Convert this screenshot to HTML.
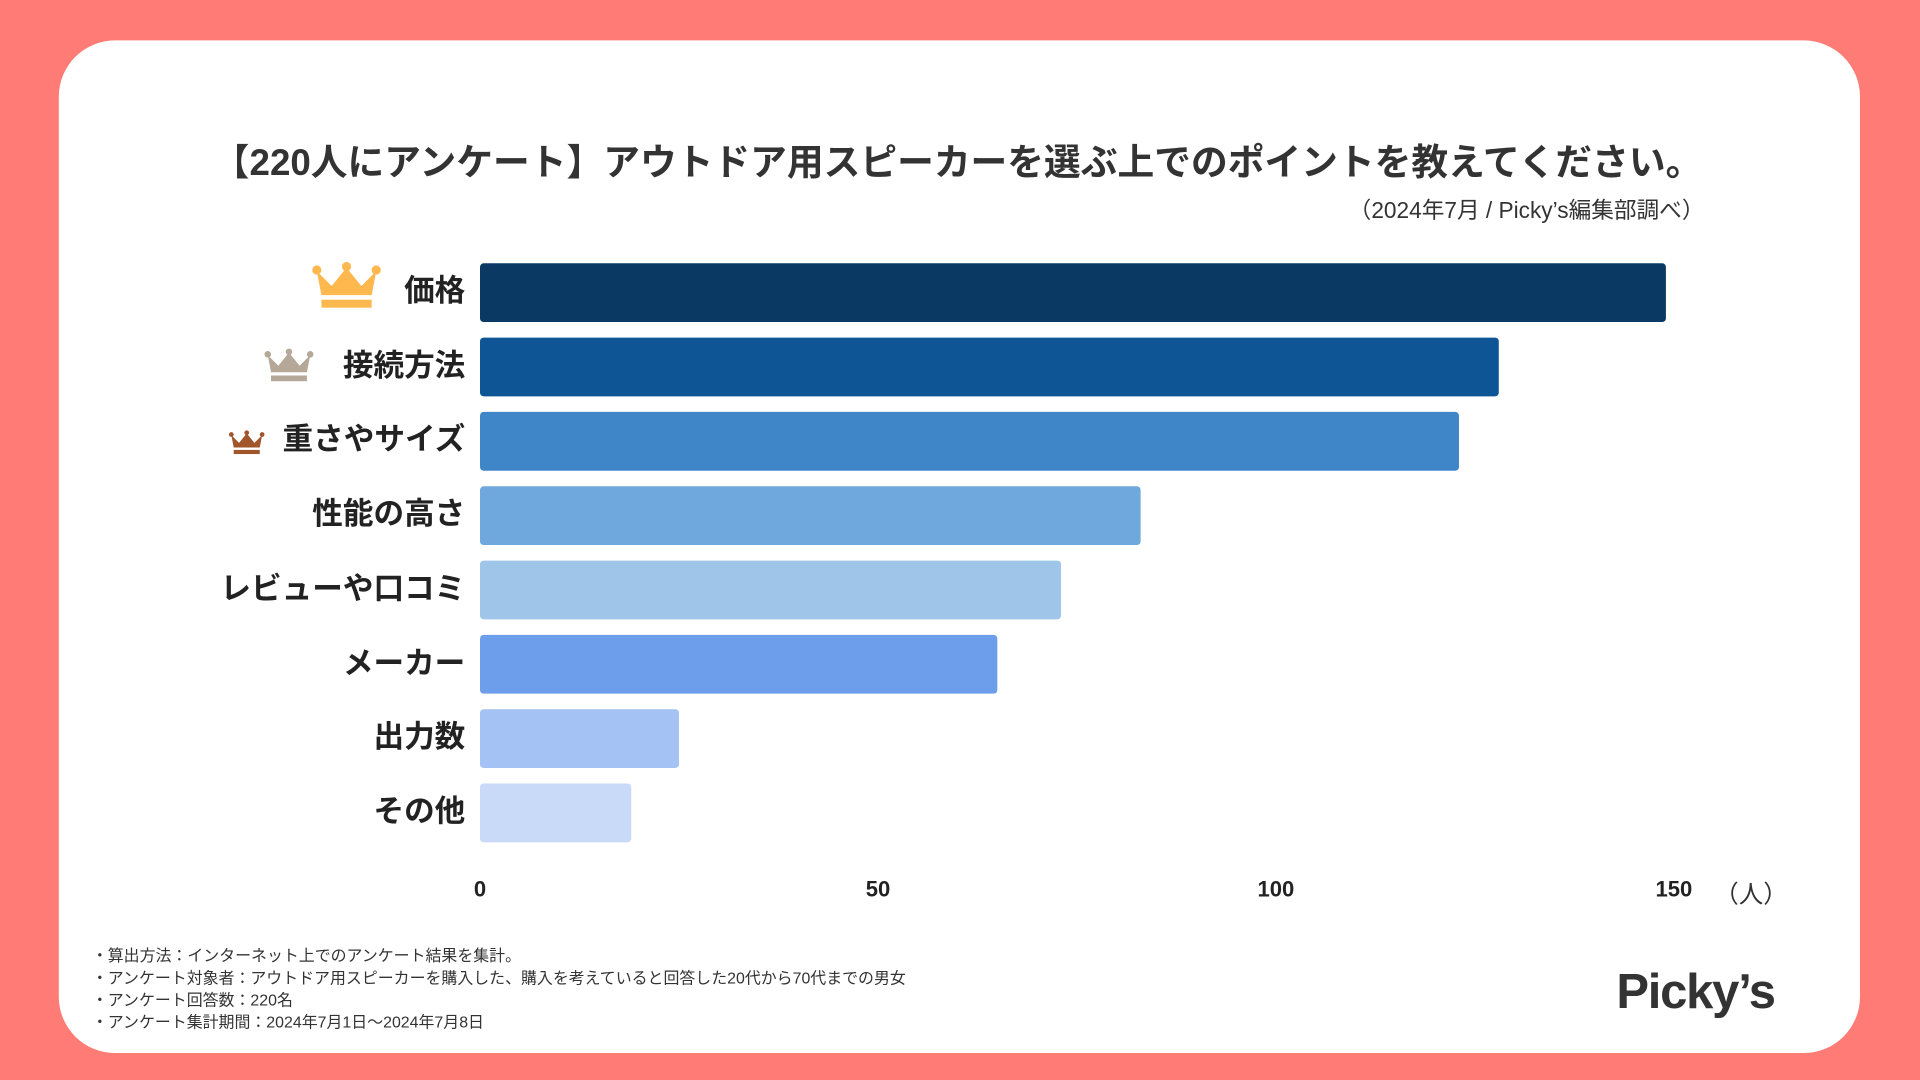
<!DOCTYPE html>
<html><head><meta charset="utf-8">
<style>
html,body{margin:0;padding:0;width:1920px;height:1080px;overflow:hidden;background:#FF7B75;}
#wrap{position:absolute;left:0;top:0;width:1568px;height:882px;transform:scale(1.22449);transform-origin:0 0;font-family:"Liberation Sans","Noto Sans CJK JP",sans-serif;}
#card{position:absolute;left:48px;top:33px;width:1471px;height:827px;background:#fff;border-radius:46px;}
.t{position:absolute;white-space:nowrap;color:#333;}
.lbl{position:absolute;font-weight:bold;font-size:25px;color:#222;white-space:nowrap;line-height:30px;}
.tick{position:absolute;top:716px;font-weight:bold;font-size:18px;color:#222;transform:translateX(-50%);}
.fn{position:absolute;left:75px;font-size:13px;color:#333;white-space:nowrap;line-height:16px;}
</style></head>
<body>
<div id="wrap">
<div id="card"></div>
<div class="t" style="left:0;width:1564px;text-align:center;top:108px;font-size:30px;font-weight:bold;">【220人にアンケート】アウトドア用スピーカーを選ぶ上でのポイントを教えてください。</div>
<div class="t" style="right:176px;top:158px;font-size:18.5px;">（2024年7月 / Picky’s編集部調べ）</div>
<svg id="plot" width="1568" height="882" style="position:absolute;left:0;top:0;"></svg>
<div class="t" style="left:1400px;top:714px;font-size:20px;">（人）</div>
<div class="fn" style="top:773px;">・算出方法：インターネット上でのアンケート結果を集計。</div>
<div class="fn" style="top:791px;">・アンケート対象者：アウトドア用スピーカーを購入した、購入を考えていると回答した20代から70代までの男女</div>
<div class="fn" style="top:809px;">・アンケート回答数：220名</div>
<div class="fn" style="top:827px;">・アンケート集計期間：2024年7月1日〜2024年7月8日</div>
<div class="t" style="left:1320px;top:788px;font-size:40px;font-weight:bold;letter-spacing:-1px;color:#333;">Picky’s</div>
</div>
<script>
const categories=["価格","接続方法","重さやサイズ","性能の高さ","レビューや口コミ","メーカー","出力数","その他"];
const values=[149,128,123,83,73,65,25,19];
const tickValues=[0,50,100,150];
const tickLabels=["0","50","100","150"];
const colors=["#0A3A64","#0E5596","#3F86C8","#6FA8DC","#9FC5E8","#6D9EEB","#A4C2F4","#C9DAF8"];
const x0=392,pxPerUnit=6.5,rowTop=215,rowStep=60.7,barH=48;
function xs(v){return x0+v*pxPerUnit;}
function ys(i){return rowTop+i*rowStep;}
const NS="http://www.w3.org/2000/svg";
const svg=document.getElementById('plot');
const wrap=document.getElementById('wrap');
values.forEach((v,i)=>{
  const r=document.createElementNS(NS,'rect');
  r.setAttribute('x',xs(0));r.setAttribute('y',ys(i));
  r.setAttribute('width',xs(v)-xs(0));r.setAttribute('height',barH);
  r.setAttribute('rx',3);r.setAttribute('fill',colors[i]);
  
  
  svg.appendChild(r);
  const d=document.createElement('div');
  d.className='lbl';d.textContent=categories[i];
  d.style.top=(ys(i)+barH/2-16)+'px';
  d.style.right=(1568-380)+'px';
  
  
  wrap.appendChild(d);
});
tickValues.forEach((v,i)=>{
  const d=document.createElement('div');
  d.className='tick';d.textContent=tickLabels[i];
  d.style.left=xs(v)+'px';
  
  
  wrap.appendChild(d);
});
const crowns=[[255,213,56,"#FFB84D"],[216,284,40,"#B5A898"],[187,351,29,"#A0552A"]];
crowns.forEach((c,i)=>{
  const g=document.createElementNS(NS,'g');
  g.setAttribute('transform','translate('+c[0]+','+c[1]+') scale('+(c[2]/60)+')');
  g.setAttribute('fill',c[3]);
  
  
  g.innerHTML='<path d="M4,9 L17,22 L30,6 L43,22 L56,9 L52,30 L8,30 Z"/><circle cx="4" cy="8" r="4"/><circle cx="30" cy="5" r="4"/><circle cx="56" cy="8" r="4"/><rect x="8" y="34" width="44" height="7"/>';
  svg.appendChild(g);
});
</script>
</body></html>
